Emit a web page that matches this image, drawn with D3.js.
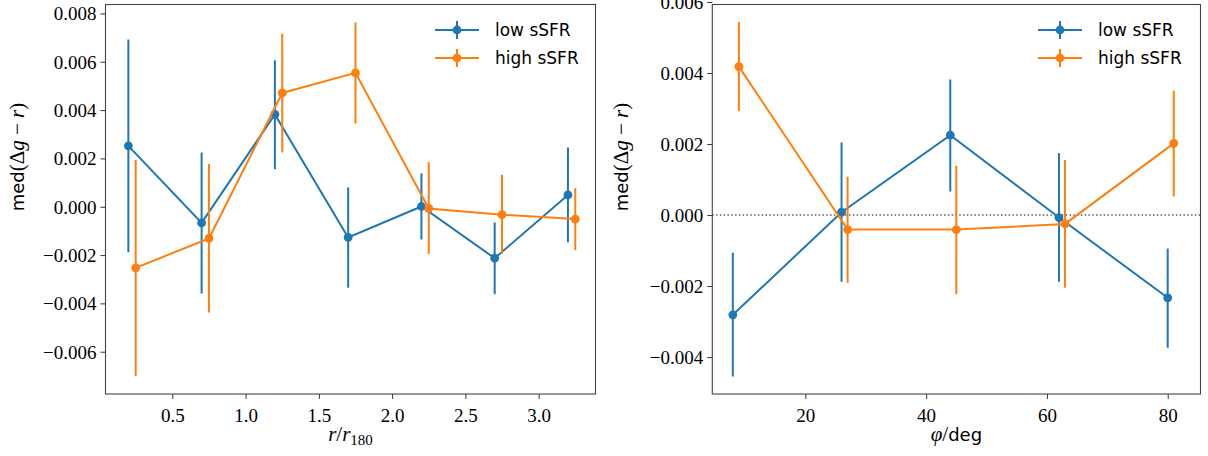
<!DOCTYPE html>
<html><head><meta charset="utf-8">
<script src="https://cdn.jsdelivr.net/npm/d3@7"></script>
<style>
body{margin:0;background:#fff;}
svg{display:block;}
.tick text{font-family:"Liberation Serif",serif;font-size:19px;fill:#000;}
</style></head>
<body><svg id="c" width="1208" height="456"></svg>
<script>
// ---- Left panel data (vs r/r180) ----
const rLow = [0.2, 0.7, 1.2, 1.7, 2.2, 2.7, 3.2];
const rHigh = [0.25, 0.75, 1.25, 1.75, 2.25, 2.75, 3.25];
const rLowMed = [0.00252, -0.00067, 0.00382, -0.00127, 0.00001, -0.00213, 0.00049];
const rLowUp  = [0.00692, 0.00224, 0.00606, 0.00080, 0.00139, -0.00065, 0.00245];
const rLowDn  = [-0.00188, -0.00359, 0.00155, -0.00335, -0.00136, -0.00362, -0.00147];
const rHighMed = [-0.00253, -0.00131, 0.00471, 0.00554, -0.00007, -0.00033, -0.00051];
const rHighUp  = [0.00194, 0.00177, 0.00716, 0.00763, 0.00184, 0.00132, 0.00077];
const rHighDn  = [-0.00702, -0.00438, 0.00224, 0.00345, -0.00195, -0.00195, -0.00180];
const rTicksX = [0.5, 1.0, 1.5, 2.0, 2.5, 3.0];
const rTicksY = [-0.006, -0.004, -0.002, 0.000, 0.002, 0.004, 0.006, 0.008];

// ---- Right panel data (vs phi/deg) ----
const pLow = [8, 26, 44, 62, 80];
const pHigh = [9, 27, 45, 63, 81];
const pLowMed = [-0.00281, 0.00008, 0.00225, -0.00007, -0.00233];
const pLowUp  = [-0.00106, 0.00204, 0.00382, 0.00174, -0.00094];
const pLowDn  = [-0.00455, -0.00188, 0.00066, -0.00188, -0.00374];
const pHighMed = [0.00418, -0.00041, -0.00041, -0.00025, 0.00202];
const pHighUp  = [0.00544, 0.00108, 0.00139, 0.00155, 0.00350];
const pHighDn  = [0.00293, -0.00191, -0.00223, -0.00205, 0.00052];
const pTicksX = [20, 40, 60, 80];
const pTicksY = [-0.004, -0.002, 0.000, 0.002, 0.004, 0.006];

const seriesNames = ["low sSFR", "high sSFR"];
const colors = ["#1f77b4", "#ff7f0e"];

const svg = d3.select("#c");

function panel(cfg){
  const x = d3.scaleLinear().domain(cfg.xdom).range([cfg.x0, cfg.x1]);
  const y = d3.scaleLinear().domain(cfg.ydom).range([cfg.y1, cfg.y0]);
  const g = svg.append("g");
  const cid = "clip" + cfg.id;
  svg.append("clipPath").attr("id", cid).append("rect")
    .attr("x", cfg.x0).attr("y", cfg.y0).attr("width", cfg.x1 - cfg.x0).attr("height", cfg.y1 - cfg.y0);

  const plot = g.append("g").attr("clip-path", `url(#${cid})`);
  if (cfg.zeroLine) {
    plot.append("line").attr("x1", cfg.x0).attr("x2", cfg.x1)
      .attr("y1", y(0)).attr("y2", y(0))
      .attr("stroke", "#555").attr("stroke-width", 1.4).attr("stroke-dasharray", "1.4,2.4");
  }
  cfg.series.forEach((s, si) => {
    const col = colors[si];
    const pts = s.xs.map((xv, i) => ({x: xv, m: s.med[i], up: s.up[i], dn: s.dn[i]}));
    plot.append("path").datum(pts)
      .attr("d", d3.line().x(d => x(d.x)).y(d => y(d.m)))
      .attr("fill", "none").attr("stroke", col).attr("stroke-width", 2);
    plot.selectAll(null).data(pts).enter().append("line")
      .attr("x1", d => x(d.x)).attr("x2", d => x(d.x))
      .attr("y1", d => y(d.up)).attr("y2", d => y(d.dn))
      .attr("stroke", col).attr("stroke-width", 2);
    plot.selectAll(null).data(pts).enter().append("circle")
      .attr("cx", d => x(d.x)).attr("cy", d => y(d.m)).attr("r", 4.4)
      .attr("fill", col);
  });

  const ax = g.append("g").attr("transform", `translate(0,${cfg.y1})`)
    .call(d3.axisBottom(x).tickValues(cfg.xticks).tickFormat(cfg.xfmt).tickSize(5).tickPadding(5));
  const ay = g.append("g").attr("transform", `translate(${cfg.x0},0)`)
    .call(d3.axisLeft(y).tickValues(cfg.yticks).tickFormat(d3.format(".3f")).tickSize(5).tickPadding(4));
  [ax, ay].forEach(a => {
    a.select(".domain").remove();
    a.selectAll(".tick line").attr("stroke", "#333").attr("stroke-width", 1);
  });
  ax.selectAll(".tick text").attr("dy", "0.95em");
  ay.selectAll(".tick text").attr("dy", "0.34em");
  g.append("rect").attr("x", cfg.x0).attr("y", cfg.y0)
    .attr("width", cfg.x1 - cfg.x0).attr("height", cfg.y1 - cfg.y0)
    .attr("fill", "none").attr("stroke", "#444").attr("stroke-width", 1.1);

  // y label
  const yl = svg.append("text")
    .attr("transform", `translate(${cfg.ylx},${cfg.yly}) rotate(-90)`)
    .attr("text-anchor", "middle").attr("font-size", 21);
  yl.append("tspan").attr("font-family", "DejaVu Sans").attr("font-size", 18).text("med");
  yl.append("tspan").attr("font-family", "Liberation Serif").text("(Δ");
  yl.append("tspan").attr("font-family", "Liberation Serif").attr("font-style", "italic").text("g");
  yl.append("tspan").attr("font-family", "Liberation Serif").text(" − ");
  yl.append("tspan").attr("font-family", "Liberation Serif").attr("font-style", "italic").text("r");
  yl.append("tspan").attr("font-family", "Liberation Serif").text(")");

  cfg.xlabel(svg.append("text").attr("x", (cfg.x0 + cfg.x1) / 2).attr("y", 441)
    .attr("text-anchor", "middle").attr("font-size", 21));

  seriesNames.forEach((name, i) => {
    const ly = cfg.legY[i];
    const lg = svg.append("g");
    lg.append("line").attr("x1", cfg.legX).attr("x2", cfg.legX + 44).attr("y1", ly).attr("y2", ly)
      .attr("stroke", colors[i]).attr("stroke-width", 2);
    lg.append("line").attr("x1", cfg.legX + 22).attr("x2", cfg.legX + 22).attr("y1", ly - 9).attr("y2", ly + 9)
      .attr("stroke", colors[i]).attr("stroke-width", 2);
    lg.append("circle").attr("cx", cfg.legX + 22).attr("cy", ly).attr("r", 4.4).attr("fill", colors[i]);
    lg.append("text").attr("x", cfg.legX + 60).attr("y", ly + 6)
      .attr("font-family", "DejaVu Sans").attr("font-size", 17).attr("fill", "#000").text(name);
  });
}

panel({
  id: "L", x0: 105.5, x1: 595.5, y0: 4.5, y1: 394,
  xdom: [0.044, 3.388], ydom: [-0.00775, 0.00837],
  xticks: rTicksX, yticks: rTicksY, xfmt: d3.format(".1f"),
  series: [
    {xs: rLow, med: rLowMed, up: rLowUp, dn: rLowDn},
    {xs: rHigh, med: rHighMed, up: rHighUp, dn: rHighDn}
  ],
  ylx: 24, yly: 157,
  xlabel: t => {
    t.append("tspan").attr("font-family", "Liberation Serif").attr("font-style", "italic").text("r");
    t.append("tspan").attr("font-family", "Liberation Serif").text("/");
    t.append("tspan").attr("font-family", "Liberation Serif").attr("font-style", "italic").text("r");
    t.append("tspan").attr("font-family", "Liberation Serif").attr("font-size", 15).attr("dy", 4).text("180");
  },
  legX: 435, legY: [30, 58]
});

panel({
  id: "R", x0: 712.3, x1: 1200.5, y0: 4.5, y1: 394,
  xdom: [4.6, 85.43], ydom: [-0.00504, 0.00593],
  xticks: pTicksX, yticks: pTicksY, xfmt: d3.format("d"),
  series: [
    {xs: pLow, med: pLowMed, up: pLowUp, dn: pLowDn},
    {xs: pHigh, med: pHighMed, up: pHighUp, dn: pHighDn}
  ],
  zeroLine: true,
  ylx: 628, yly: 157,
  xlabel: t => {
    t.append("tspan").attr("font-family", "Liberation Serif").attr("font-style", "italic").text("φ");
    t.append("tspan").attr("font-family", "Liberation Serif").text("/");
    t.append("tspan").attr("font-family", "DejaVu Sans").attr("font-size", 18).text("deg");
  },
  legX: 1038, legY: [30, 58]
});
</script>
</body></html>
